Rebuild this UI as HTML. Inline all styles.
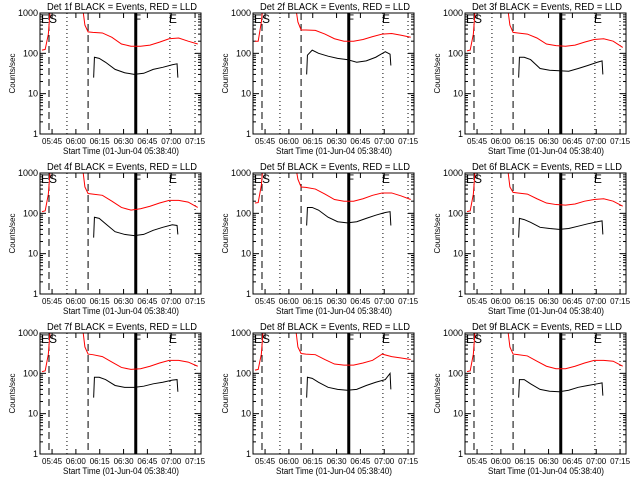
<!DOCTYPE html>
<html><head><meta charset="utf-8"><style>
html,body{margin:0;padding:0;background:#fff;}
svg{display:block;font-family:"Liberation Sans",sans-serif;}
</style></head><body>
<svg id="chart" width="640" height="480" viewBox="0 0 640 480" xmlns="http://www.w3.org/2000/svg"></svg>
<script>
// Time in minutes since 05:38:40
const xTickLabels = ["05:45","06:00","06:15","06:30","06:45","07:00","07:15"];
const xTickTimes = [6.33,21.33,36.33,51.33,66.33,81.33,96.33];
const yTickValues = [1,10,100,1000];
const yTickLabels = ["1","10","100","1000"];
const detectors = ["1f","2f","3f","4f","5f","6f","7f","8f","9f"];
const redTimes = [0,2,4,5,6,25,27,29,32,38,44,50,56,62,68,74,80,86,92,98];
const blackTimes = [32.5,33,36,40,46,52,58,64,70,76,82,85,85.5];
const red1 = [120,125,300,1000,2000,2000,500,340,330,320,250,170,150,150,160,190,230,240,200,170];
const red2 = [200,200,600,1500,2000,2000,600,380,380,370,300,230,200,200,220,260,300,310,280,250];
const red3 = [115,120,300,1000,2000,2000,500,330,320,300,240,170,155,150,160,190,220,230,200,140];
const red4 = [110,115,300,1000,2000,2000,450,310,300,280,200,140,120,130,150,180,210,210,190,140];
const red5 = [180,185,500,1500,2000,2000,700,450,440,400,300,220,200,200,230,280,320,320,270,220];
const red6 = [110,115,300,1000,2000,2000,450,330,320,300,230,180,165,160,170,200,220,230,200,150];
const red7 = [110,115,300,1000,2000,2000,450,300,290,260,190,140,125,130,150,180,210,210,190,150];
const red8 = [120,125,300,1000,2000,2000,450,310,300,290,220,170,160,160,180,210,300,260,240,220];
const red9 = [110,115,300,1000,2000,2000,450,300,290,270,200,150,130,130,150,180,210,210,200,150];
const black1 = [25,80,75,60,40,33,30,32,40,45,52,55,25];
const black2 = [30,90,120,100,85,75,70,60,65,80,110,95,50];
const black3 = [25,80,80,70,42,38,37,36,42,50,60,65,30];
const black4 = [25,80,75,55,35,30,28,30,38,45,52,50,30];
const black5 = [50,140,140,120,80,62,58,62,75,90,105,110,50];
const black6 = [25,75,70,60,45,42,40,42,48,55,62,65,30];
const black7 = [25,80,80,70,50,45,45,48,55,60,68,70,35];
const black8 = [25,80,75,60,45,40,38,40,50,60,70,100,40];
const black9 = [25,70,70,55,40,36,35,38,45,50,55,58,28];
const redSeries = [red1,red2,red3,red4,red5,red6,red7,red8,red9];
const blackSeries = [black1,black2,black3,black4,black5,black6,black7,black8,black9];
const markerTimes = [4.4,15.7,29,59,80.5,96.3];
const markerStyles = ["dashed","dotted","dashed","thick","dotted","dotted"];

const NS="http://www.w3.org/2000/svg";
const svg=document.getElementById('chart');
function mk(tag,attrs,parent){const e=document.createElementNS(NS,tag);for(const k in attrs)e.setAttribute(k,attrs[k]);(parent||svg).appendChild(e);return e;}
const colOff=[0,213,425], rowOff=[0,160,320];
const W=161,H=121;
for(let p=0;p<9;p++){
  const ox=colOff[p%3], oy=rowOff[Math.floor(p/3)];
  const x0=40+ox, y0=13+oy;
  const xs=t=>x0+2+t*1.589;
  const ys=v=>y0+H-(Math.log10(Math.max(v,1))/3)*H;
  const g=mk('g',{});
  
  
  const clipId='c'+p;
  const cp=mk('clipPath',{id:clipId},g);mk('rect',{x:x0,y:y0,width:W,height:H},cp);
  const title=mk('text',{x:x0+7,y:y0-3,'font-size':'10',textLength:'150',lengthAdjust:'spacingAndGlyphs'},g);
  title.textContent='Det '+detectors[p]+' BLACK = Events, RED = LLD';
  
  
  const xl=mk('text',{x:x0+23,y:y0+H+20,'font-size':'9',textLength:'116',lengthAdjust:'spacingAndGlyphs'},g);
  xl.textContent='Start Time (01-Jun-04 05:38:40)';
  
  
  const yl=mk('text',{x:0,y:0,'text-anchor':'middle','font-size':'8',transform:`translate(${ox+15},${y0+H/2}) rotate(-90)`},g);
  yl.textContent='Counts/sec';
  
  
  yTickValues.forEach((v,i)=>{
    const y=ys(v);
    mk('line',{x1:x0,y1:y,x2:x0+6,y2:y,stroke:'#000'},g);
    mk('line',{x1:x0+W,y1:y,x2:x0+W-6,y2:y,stroke:'#000'},g);
    const t=mk('text',{x:x0-2,y:y+3,'text-anchor':'end','font-size':'9'},g);
    t.textContent=yTickLabels[i];
    
    
    if(i<3)for(let m=2;m<10;m++){const ym=ys(v*m);
      mk('line',{x1:x0,y1:ym,x2:x0+3,y2:ym,stroke:'#000'},g);
      mk('line',{x1:x0+W,y1:ym,x2:x0+W-3,y2:ym,stroke:'#000'},g);}
  });
  xTickTimes.forEach((tt,i)=>{
    const x=xs(tt);
    mk('line',{x1:x,y1:y0+H,x2:x,y2:y0+H-5,stroke:'#000'},g);
    mk('line',{x1:x,y1:y0,x2:x,y2:y0+5,stroke:'#000'},g);
    const t=mk('text',{x:x,y:y0+H+10,'text-anchor':'middle','font-size':'8',textLength:'20',lengthAdjust:'spacingAndGlyphs'},g);
    t.textContent=xTickLabels[i];
    
    
  });
  markerTimes.forEach((mt,i)=>{
    const x=xs(mt), st=markerStyles[i];
    const a={x1:x,y1:y0,x2:x,y2:y0+H,stroke:'#000','stroke-width':st==='thick'?3:1};
    if(st==='dashed')a['stroke-dasharray']='7,4';
    if(st==='dotted')a['stroke-dasharray']='1,3';
    const l=mk('line',a,g);
    
    
  });
  [['E',x0+1],['S',x0+9],['F',xs(59)-2],['E',xs(80.5)-1]].forEach(([s,x])=>{
    const t=mk('text',{x:x,y:y0+10,'font-size':'12'},g);t.textContent=s;
    
    
  });
  const rp=mk('polyline',{points:redTimes.map((t,i)=>xs(t)+','+ys(redSeries[p][i])).join(' '),fill:'none',stroke:'#f00','stroke-width':1,'clip-path':`url(#${clipId})`},g);
  
  
  const bp=mk('polyline',{points:blackTimes.map((t,i)=>xs(t)+','+ys(blackSeries[p][i])).join(' '),fill:'none',stroke:'#000','stroke-width':1,'clip-path':`url(#${clipId})`},g);
  
  
  const box=mk('rect',{x:x0,y:y0,width:W,height:H,fill:'none',stroke:'#000'},g);
  
  
}
</script>
</body></html>
